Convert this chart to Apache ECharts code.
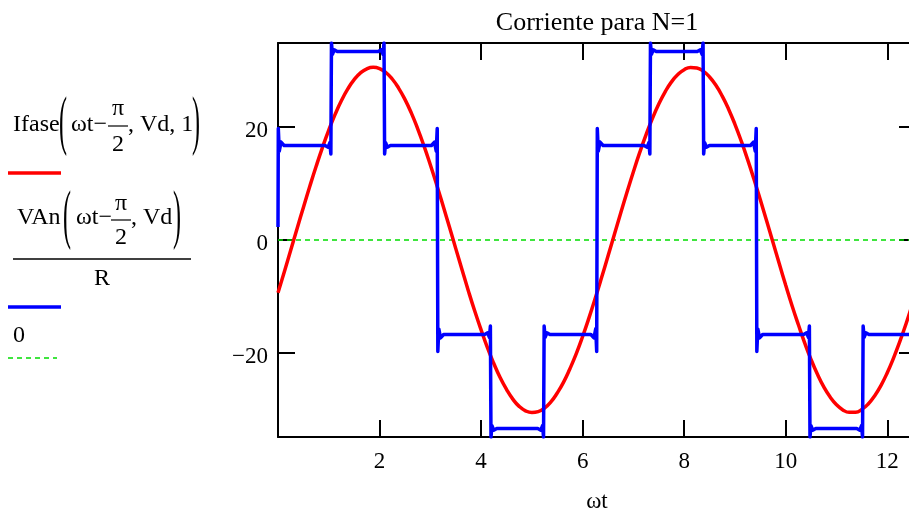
<!DOCTYPE html>
<html><head><meta charset="utf-8">
<script src="https://cdn.jsdelivr.net/npm/echarts@6/dist/echarts.min.js"></script>
<style>html,body{margin:0;padding:0;background:#fff;overflow:hidden;width:909px;height:518px}#c{width:940px;height:518px}</style>
</head><body><div id="c"></div>
<script>
// ---- data ----
const titleText = 'Corriente para N=1';
const xAxisName = 'ωt';
const xTicks = [2, 4, 6, 8, 10, 12];
const yTicks = [-20, 0, 20];
const xMin = 0, xMax = 12.566;
const yMin = -34.8, yMax = 34.8;

// red trace: Ifase(ωt - π/2, Vd, 1)
const currentX = [0,0.125,0.25,0.375,0.5,0.625,0.75,0.875,1,1.125,1.25,1.375,1.5,1.625,1.75,1.875,2,2.125,2.25,2.375,2.5,2.625,2.75,2.875,3,3.125,3.25,3.375,3.5,3.625,3.75,3.875,4,4.125,4.25,4.375,4.5,4.625,4.75,4.875,5,5.125,5.25,5.375,5.5,5.625,5.75,5.875,6,6.125,6.25,6.375,6.5,6.625,6.75,6.875,7,7.125,7.25,7.375,7.5,7.625,7.75,7.875,8,8.125,8.25,8.375,8.5,8.625,8.75,8.875,9,9.125,9.25,9.375,9.5,9.625,9.75,9.875,10,10.125,10.25,10.375,10.5,10.625,10.75,10.875,11,11.125,11.25,11.375,11.5,11.625,11.75,11.875,12,12.125,12.25,12.375,12.5,12.566];
const currentY = [-9.31,-5.61,-1.83,1.98,5.76,9.45,12.99,16.33,19.41,22.19,24.63,26.69,28.32,29.51,30.24,30.5,30.28,29.59,28.44,26.84,24.84,22.45,19.68,16.62,13.29,9.77,6.09,2.33,-1.48,-5.26,-9.0,-12.55,-15.87,-19.02,-21.81,-24.3,-26.38,-28.11,-29.39,-30.18,-30.49,-30.33,-29.69,-28.6,-27.02,-25.1,-22.73,-20.08,-17.05,-13.76,-10.26,-6.6,-2.84,0.97,4.76,8.48,12.07,15.47,18.62,21.49,24.02,26.18,27.93,29.23,30.09,30.48,30.38,29.82,28.8,27.33,25.42,23.11,20.44,17.46,14.19,10.73,7.09,3.34,-0.46,-4.26,-8.01,-11.61,-14.98,-18.21,-21.14,-23.72,-25.96,-27.75,-29.1,-30.01,-30.44,-30.42,-29.92,-28.96,-27.54,-25.71,-23.45,-20.82,-17.87,-14.66,-11.18,-9.32];

// blue trace: VAn(ωt - π/2, Vd)/R  (six-step wave with ringing at each step)
const voltagePts = [
 [0,2.3],[0.006,19.7],[0.025,15.7],[0.06,17.3],[0.12,16.7],
 [0.927,16.7],[0.987,16.4],[1.022,17.2],[1.041,15.2],[1.053,34.8],[1.072,32.8],[1.107,33.6],[1.167,33.3],
 [1.974,33.3],[2.034,33.6],[2.069,32.8],[2.088,34.8],[2.100,15.2],[2.119,17.2],[2.154,16.4],[2.214,16.7],
 [3.022,16.7],[3.082,17.3],[3.117,15.7],[3.136,19.7],[3.148,-19.7],[3.167,-15.7],[3.202,-17.3],[3.262,-16.7],
 [4.069,-16.7],[4.129,-16.4],[4.164,-17.2],[4.183,-15.2],[4.195,-34.8],[4.214,-32.8],[4.249,-33.6],[4.309,-33.3],
 [5.116,-33.3],[5.176,-33.6],[5.211,-32.8],[5.230,-34.8],[5.242,-15.2],[5.261,-17.2],[5.296,-16.4],[5.356,-16.7],
 [6.163,-16.7],[6.223,-17.3],[6.258,-15.7],[6.277,-19.7],[6.289,19.7],[6.308,15.7],[6.343,17.3],[6.403,16.7],
 [7.210,16.7],[7.270,16.4],[7.305,17.2],[7.324,15.2],[7.336,34.8],[7.355,32.8],[7.390,33.6],[7.450,33.3],
 [8.258,33.3],[8.318,33.6],[8.353,32.8],[8.372,34.8],[8.384,15.2],[8.403,17.2],[8.438,16.4],[8.498,16.7],
 [9.305,16.7],[9.365,17.3],[9.400,15.7],[9.419,19.7],[9.431,-19.7],[9.450,-15.7],[9.485,-17.3],[9.545,-16.7],
 [10.352,-16.7],[10.412,-16.4],[10.447,-17.2],[10.466,-15.2],[10.478,-34.8],[10.497,-32.8],[10.532,-33.6],[10.592,-33.3],
 [11.399,-33.3],[11.459,-33.6],[11.494,-32.8],[11.513,-34.8],[11.525,-15.2],[11.544,-17.2],[11.579,-16.4],[11.639,-16.7],
 [12.446,-16.7],[12.506,-17.3],[12.541,-15.7],[12.560,-19.7],[12.566,-2.3]
];

// green trace: 0
const zeroX = [0, 12.566];
const zeroY = [0, 0];

// ---- chart ----
const SERIF = '"Liberation Serif","DejaVu Serif",serif';
const chart = echarts.init(document.getElementById('c'), null, {renderer: 'canvas'});
const currentData = currentX.map((x, i) => [x, currentY[i]]);
const zeroData = zeroX.map((x, i) => [x, zeroY[i]]);

const axisLineStyle = {color: '#000', width: 2};
function xAx(pos, showLabel) {
  return {
    type: 'value', position: pos, min: xMin, max: xMax,
    name: showLabel ? xAxisName : '', nameLocation: 'middle', nameGap: 53,
    nameTextStyle: {fontFamily: SERIF, fontSize: 23, color: '#000'},
    axisLine: {show: true, onZero: false, lineStyle: axisLineStyle},
    axisTick: {show: true, inside: true, length: 17, customValues: xTicks, lineStyle: axisLineStyle},
    axisLabel: {show: showLabel, customValues: xTicks, margin: 13, fontFamily: SERIF, fontSize: 23, color: '#000'},
    splitLine: {show: false}
  };
}
function yAx(pos, showLabel) {
  return {
    type: 'value', position: pos, min: yMin, max: yMax,
    axisLine: {show: true, onZero: false, lineStyle: axisLineStyle},
    axisTick: {show: true, inside: true, length: 17, customValues: yTicks, lineStyle: axisLineStyle},
    axisLabel: {show: showLabel, customValues: yTicks, margin: 10, fontFamily: SERIF, fontSize: 23, color: '#000',
      verticalAlign: 'top', lineHeight: 8,
      formatter: v => (v < 0 ? '\u2212' + Math.abs(v) : String(v))},
    splitLine: {show: false}
  };
}

const G = [];
function txt(x, y, s, align) {
  G.push({type: 'text', x: x, y: y, silent: true,
    style: {text: s, font: '24px ' + SERIF, fill: '#000', textAlign: align || 'left', textVerticalAlign: 'middle'}});
}
function paren(x, y, s) {
  G.push({type: 'text', x: x, y: y, scaleY: 2.7, silent: true,
    style: {text: s, font: '24px ' + SERIF, fill: '#000', textAlign: 'left', textVerticalAlign: 'middle'}});
}
function ln(x1, y1, x2, y2, stroke, w, dash) {
  G.push({type: 'line', silent: true, shape: {x1: x1, y1: y1, x2: x2, y2: y2},
    style: {stroke: stroke, lineWidth: w, lineDash: dash || null}});
}
// title
G.push({type: 'text', x: 597, y: 23, silent: true,
  style: {text: titleText, font: '26px ' + SERIF, fill: '#000', textAlign: 'center', textVerticalAlign: 'middle'}});
// legend entry 1
txt(13, 125, 'Ifase');
paren(59, 125, '(');
txt(71, 125, 'ωt\u2212');
txt(118, 109, 'π', 'center');
ln(108, 126, 128, 126, '#000', 1.2);
txt(118, 145, '2', 'center');
txt(128, 125, ', Vd, 1');
paren(192, 125, ')');
ln(8, 173, 61, 173, '#ff0000', 3.5);
// legend entry 2
txt(17, 218, 'VAn');
paren(63, 219, '(');
txt(76, 218, 'ωt\u2212');
txt(121, 204, 'π', 'center');
ln(111, 220, 131, 220, '#000', 1.2);
txt(121, 238, '2', 'center');
txt(131, 218, ', Vd');
paren(173, 219, ')');
ln(13, 259, 191, 259, '#000', 1.5);
txt(102, 279, 'R', 'center');
ln(8, 307, 61, 307, '#0000ff', 3.5);
// legend entry 3
txt(13, 336, '0');
ln(8, 358, 57, 358, '#00dd00', 1.5, [5, 4]);

chart.setOption({
  animation: false,
  backgroundColor: '#fff',
  grid: {left: 278, top: 43, width: 638, height: 400, containLabel: false},
  xAxis: [xAx('bottom', true), xAx('top', false)],
  yAxis: [yAx('left', true), yAx('right', false)],
  series: [
    {type: 'line', name: '0', data: zeroData, xAxisIndex: 0, yAxisIndex: 0, showSymbol: false, silent: true,
     lineStyle: {color: '#00dd00', width: 1.5, type: [5, 4]}, z: 2},
    {type: 'line', name: 'Ifase', data: currentData, xAxisIndex: 0, yAxisIndex: 0, showSymbol: false, smooth: true, silent: true,
     lineStyle: {color: '#ff0000', width: 3.5}, z: 3},
    {type: 'line', name: 'VAn/R', data: voltagePts, xAxisIndex: 0, yAxisIndex: 0, showSymbol: false, silent: true,
     lineStyle: {color: '#0000ff', width: 3.5, join: 'round'}, z: 4}
  ],
  graphic: G
});
</script></body></html>
